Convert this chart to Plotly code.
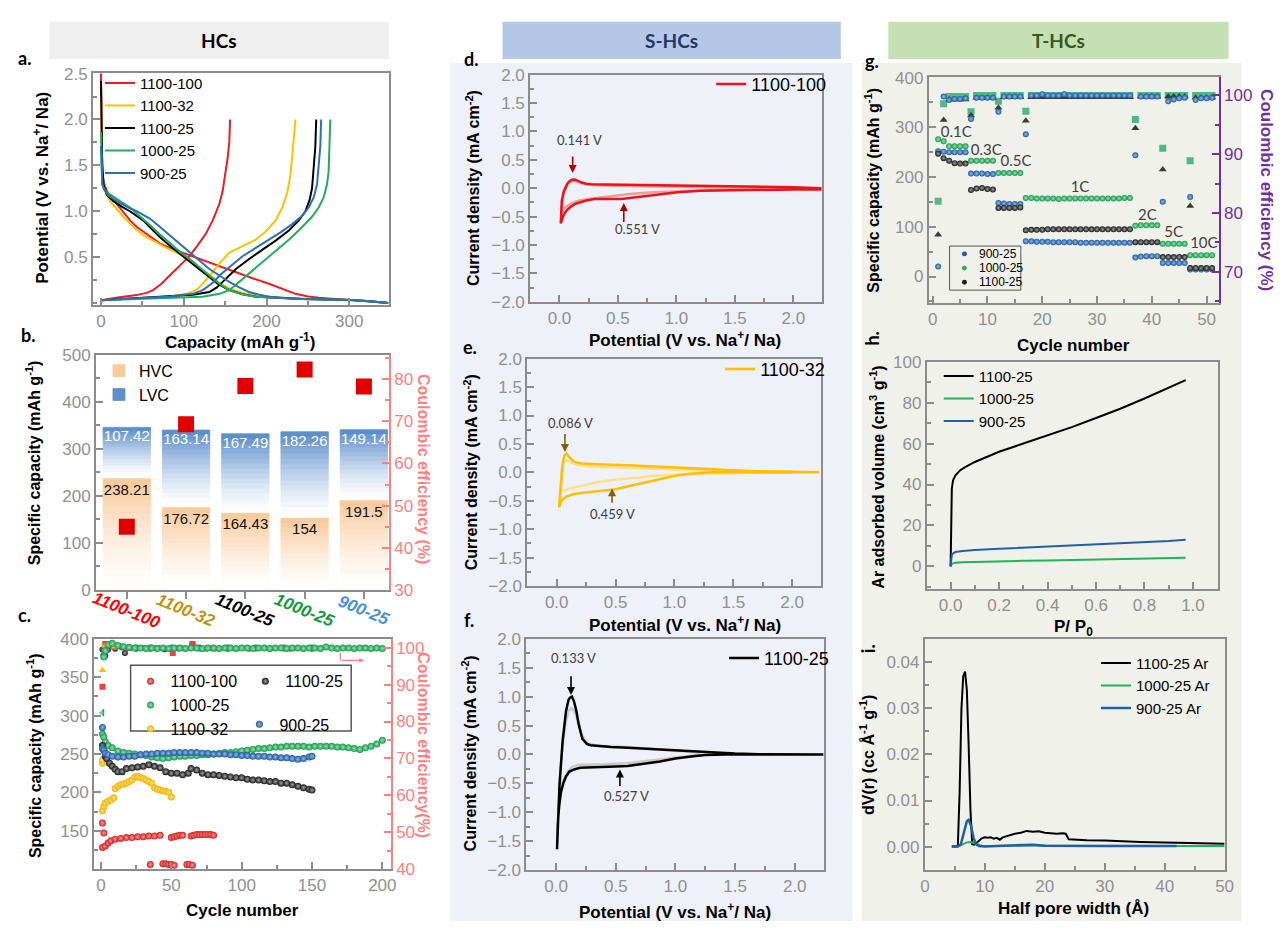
import plotly.graph_objects as go

W, H = 1287, 931
FONT = "Liberation Sans"
FONT2 = "Lato"
GRAY = "#8c8c8c"
CE_RED = "#ff8080"
PURPLE = "#7030a0"

# ---------------- panel a : charge / discharge profiles ----------------
a_names = ["1100-100", "1100-32", "1100-25", "1000-25", "900-25"]
a_colors = ["#ee1c25", "#ffc000", "#000000", "#1fae5b", "#2f6fb5"]
a_dis_x = [
    [0, 0.4, 1.2, 2.4, 4.5, 7.2, 12, 19, 27, 35, 43, 51, 61, 71, 83, 95, 109, 123, 143, 163, 183, 203, 220, 235, 250, 263, 283, 303, 325, 347],
    [0, 0.5, 1.5, 3.2, 6, 11, 19, 27, 39, 51, 63, 75, 91, 107, 119, 131, 143, 155, 171, 187, 215, 243, 273, 303, 325, 347],
    [0, 0.5, 1.5, 3.2, 7, 15, 25, 35, 43, 51, 61, 71, 85, 99, 113, 127, 141, 155, 171, 187, 215, 243, 273, 303, 325, 347],
    [0, 0.5, 1.6, 5, 11, 23, 35, 47, 59, 71, 83, 95, 107, 119, 131, 143, 155, 171, 187, 215, 243, 273, 303, 325, 347],
    [0, 0.5, 1.5, 3.2, 8, 19, 31, 43, 59, 71, 83, 95, 107, 119, 131, 143, 155, 167, 179, 191, 203, 223, 243, 273, 303, 325, 347],
]
a_dis_v = [
    [2.5, 2.07, 1.6, 1.36, 1.28, 1.22, 1.15, 1.08, 0.99, 0.9, 0.83, 0.78, 0.71, 0.65, 0.6, 0.56, 0.51, 0.47, 0.40, 0.33, 0.27, 0.21, 0.15, 0.10, 0.07, 0.056, 0.045, 0.033, 0.02, 0.0],
    [2.25, 1.9, 1.5, 1.29, 1.2, 1.11, 1.02, 0.94, 0.83, 0.74, 0.68, 0.62, 0.55, 0.48, 0.39, 0.30, 0.22, 0.16, 0.11, 0.086, 0.06, 0.05, 0.04, 0.033, 0.02, 0.0],
    [2.42, 1.9, 1.5, 1.29, 1.18, 1.11, 1.05, 1.0, 0.95, 0.9, 0.81, 0.72, 0.61, 0.51, 0.40, 0.30, 0.21, 0.14, 0.095, 0.068, 0.052, 0.044, 0.038, 0.033, 0.02, 0.0],
    [1.86, 1.5, 1.29, 1.22, 1.18, 1.11, 1.04, 0.95, 0.85, 0.75, 0.65, 0.56, 0.48, 0.39, 0.30, 0.21, 0.14, 0.095, 0.068, 0.052, 0.044, 0.038, 0.033, 0.02, 0.0],
    [1.71, 1.45, 1.3, 1.25, 1.18, 1.11, 1.05, 1.0, 0.92, 0.83, 0.74, 0.65, 0.55, 0.46, 0.37, 0.30, 0.23, 0.17, 0.12, 0.09, 0.068, 0.055, 0.044, 0.038, 0.033, 0.02, 0.0],
]
a_chg_x = [
    [0, 20, 43, 55, 63, 73, 83, 95, 107, 117, 127, 135, 143, 147, 151, 153, 155, 156],
    [0, 40, 83, 103, 115, 123, 131, 143, 155, 171, 187, 199, 211, 219, 225, 229, 231, 233, 235],
    [0, 40, 83, 111, 131, 140, 147, 155, 163, 179, 195, 211, 227, 239, 247, 252, 255, 257, 259, 260],
    [0, 60, 123, 143, 155, 163, 171, 183, 195, 211, 227, 241, 255, 263, 269, 273, 275, 276, 277],
    [0, 40, 83, 111, 123, 135, 147, 159, 171, 187, 203, 217, 231, 243, 251, 257, 261, 263, 265, 266],
]
a_chg_v = [
    [0.03, 0.06, 0.086, 0.11, 0.14, 0.21, 0.30, 0.40, 0.51, 0.63, 0.76, 0.90, 1.08, 1.22, 1.43, 1.58, 1.75, 2.0],
    [0.03, 0.05, 0.068, 0.1, 0.14, 0.21, 0.30, 0.43, 0.55, 0.62, 0.69, 0.78, 0.90, 1.04, 1.2, 1.4, 1.6, 1.8, 2.0],
    [0.03, 0.05, 0.07, 0.09, 0.12, 0.17, 0.23, 0.30, 0.37, 0.48, 0.58, 0.68, 0.79, 0.9, 1.0, 1.12, 1.25, 1.45, 1.71, 2.0],
    [0.03, 0.05, 0.068, 0.1, 0.14, 0.2, 0.26, 0.35, 0.44, 0.57, 0.69, 0.81, 0.94, 1.04, 1.15, 1.29, 1.43, 1.7, 2.0],
    [0.03, 0.05, 0.07, 0.1, 0.14, 0.22, 0.33, 0.42, 0.51, 0.6, 0.69, 0.77, 0.86, 0.95, 1.04, 1.15, 1.29, 1.5, 1.71, 2.0],
]

# ---------------- panel b : HVC / LVC bars + ICE ----------------
b_cats = ["1100-100", "1100-32", "1100-25", "1000-25", "900-25"]
b_cat_colors = ["#ff0000", "#c8900a", "#000000", "#119a3a", "#4a90d9"]
b_hvc = [238.21, 176.72, 164.43, 154, 191.5]
b_lvc = [107.42, 163.14, 167.49, 182.26, 149.14]
b_ice = [45.0, 69.3, 78.4, 82.3, 78.3]

# ---------------- panel c : cycling ----------------
c_red_cyc = [1, 2, 1, 3, 5, 7, 10, 14, 18, 22, 26, 30, 34, 38, 42, 50, 52, 54, 56, 58, 64, 66, 68, 70, 72, 74, 76, 78, 80]
c_red_cap = [160, 147, 128, 130, 134, 137, 139, 140, 141, 141, 142, 142, 143, 143, 144, 141, 142, 143, 144, 144, 143, 144, 145, 145, 145, 145, 145, 145, 144]
c_red_low_cyc = [35, 44, 46, 48, 50, 52, 61, 63, 65]
c_red_low_cap = [106, 107, 107, 106, 106, 105, 106, 106, 105]
c_yel_cyc = [1, 1, 1, 2, 3, 5, 7, 9, 10, 12, 14, 16, 18, 20, 22, 24, 26, 28, 30, 32, 34, 36, 38, 40, 42, 44, 46, 48, 50]
c_yel_cap = [238, 242, 176, 182, 186, 188, 190, 193, 205, 208, 210, 211, 212, 214, 216, 220, 221, 219, 218, 216, 214, 212, 206, 204, 203, 202, 201, 200, 194]
c_blk_cyc = [1, 2, 3, 4, 6, 8, 10, 12, 15, 18, 22, 26, 30, 34, 38, 42, 46, 50, 54, 58, 62, 64, 68, 72, 76, 80, 84, 88, 92, 96, 100, 104, 108, 112, 116, 120, 124, 128, 132, 136, 140, 144, 148, 150]
c_blk_cap = [261, 255, 247, 244, 238, 234, 230, 227, 227, 231, 232, 233, 234, 236, 234, 232, 227, 225, 225, 223, 225, 231, 229, 225, 223, 223, 222, 221, 220, 219, 219, 217, 216, 216, 215, 214, 214, 212, 212, 210, 208, 206, 204, 203]
c_blu_cyc = [1, 2, 3, 5, 8, 12, 16, 20, 24, 28, 32, 36, 40, 44, 48, 52, 56, 60, 64, 68, 72, 76, 80, 84, 88, 92, 96, 100, 104, 108, 112, 116, 120, 124, 128, 132, 136, 140, 144, 148, 150]
c_blu_cap = [257, 255, 251, 249, 247, 246, 246, 247, 247, 249, 250, 250, 251, 251, 251, 252, 252, 252, 252, 252, 251, 251, 250, 250, 250, 249, 249, 248, 248, 247, 247, 247, 246, 246, 245, 245, 244, 243, 244, 246, 247]
c_grn_cyc = [1, 2, 3, 5, 8, 12, 16, 20, 24, 28, 32, 36, 40, 44, 48, 52, 56, 60, 64, 68, 72, 76, 80, 84, 88, 92, 96, 100, 104, 108, 112, 116, 120, 124, 128, 132, 136, 140, 144, 148, 152, 156, 160, 164, 168, 172, 176, 180, 184, 188, 192, 196, 200]
c_grn_cap = [276, 272, 266, 261, 258, 254, 252, 251, 250, 249, 248, 246, 245, 244, 245, 246, 247, 247, 248, 248, 249, 249, 250, 251, 252, 252, 253, 254, 255, 256, 257, 257, 258, 259, 259, 260, 260, 260, 260, 259, 260, 260, 260, 260, 259, 259, 258, 257, 256, 258, 260, 263, 268]
c_grn_ce = [82.4, 97.5, 99.2, 100.8, 101.2, 100.6, 100.3, 100.1, 99.9, 99.9, 99.8, 99.9, 99.8, 99.9, 99.8, 99.9, 99.9, 99.8, 99.9, 99.9, 99.8, 99.9, 99.9, 99.8, 99.9, 99.9, 99.8, 99.9, 99.9, 99.8, 99.9, 99.9, 99.8, 99.9, 99.9, 99.8, 99.9, 99.9, 99.8, 99.9, 99.9, 99.8, 100.2, 99.9, 99.8, 99.9, 99.9, 99.8, 99.9, 99.9, 99.8, 99.9, 99.8]
c_blk_ce_cyc = [1, 3, 5, 10, 17, 25, 35, 45, 55, 65, 75, 90, 105, 120, 135, 150]
c_blk_ce = [99.5, 97.8, 99.5, 99.7, 98.6, 99.8, 99.8, 99.6, 99.8, 101.0, 99.8, 99.8, 99.8, 99.8, 99.8, 99.8]
c_blu_ce_cyc = [1, 2, 4, 8, 15, 25, 35, 50, 70, 90, 110, 130, 150]
c_blu_ce = [78.4, 97.9, 99.5, 100.5, 100.2, 99.9, 99.9, 99.9, 99.9, 99.9, 99.9, 99.9, 99.9]
c_red_ce_cyc = [1, 3, 6, 10, 20, 30, 40, 51, 56, 65, 70, 80]
c_red_ce = [89.4, 101.0, 100.6, 100.2, 99.9, 99.9, 99.9, 98.6, 99.9, 101.0, 99.9, 99.8]
c_yel_ce_cyc = [1, 3, 6, 10, 20, 30, 40, 50]
c_yel_ce = [93.9, 100.5, 100.8, 100.3, 99.9, 99.8, 99.8, 99.8]

# ---------------- panels d, e, f : CV ----------------
d_x = [0.011, 0.02, 0.035, 0.05, 0.07, 0.09, 0.11, 0.133, 0.16, 0.19, 0.23, 0.27, 0.4, 0.59, 0.8, 1.0, 1.15, 1.4, 1.72, 2.0, 2.23,
       2.23, 2.0, 1.7, 1.43, 1.2, 1.01, 0.85, 0.7, 0.6, 0.53, 0.45, 0.38, 0.3, 0.22, 0.16, 0.13, 0.1, 0.07, 0.05, 0.03, 0.011]
d_y = [-0.62, -0.22, -0.08, 0.01, 0.09, 0.13, 0.15, 0.155, 0.13, 0.1, 0.08, 0.07, 0.065, 0.06, 0.05, 0.045, 0.04, 0.03, 0.02, 0.02, 0.0,
       -0.02, -0.02, -0.025, -0.03, -0.045, -0.07, -0.11, -0.16, -0.18, -0.19, -0.19, -0.19, -0.19, -0.22, -0.26, -0.28, -0.32, -0.37, -0.42, -0.5, -0.62]
d_lx = [0.02, 0.025, 0.034, 0.05, 0.08, 0.11, 0.13, 0.16, 0.22, 0.35, 0.6, 0.9, 1.15, 1.5, 2.0,
        2.0, 1.5, 1.01, 0.8, 0.6, 0.47, 0.35, 0.25, 0.16, 0.1, 0.06, 0.034, 0.02]
d_ly = [-0.45, -0.25, -0.05, 0.03, 0.1, 0.125, 0.13, 0.11, 0.07, 0.05, 0.04, 0.03, 0.02, 0.01, 0.0,
        -0.01, -0.02, -0.05, -0.07, -0.1, -0.13, -0.16, -0.19, -0.22, -0.27, -0.32, -0.36, -0.45]
e_x = [0.02, 0.025, 0.034, 0.045, 0.055, 0.07, 0.085, 0.1, 0.13, 0.155, 0.21, 0.3, 0.45, 0.6, 0.8, 1.0, 1.17, 1.3, 1.45, 1.7, 2.0, 2.23,
       2.23, 2.0, 1.73, 1.5, 1.31, 1.15, 1.03, 0.9, 0.74, 0.6, 0.49, 0.4, 0.32, 0.22, 0.13, 0.08, 0.04, 0.02]
e_y = [-0.62, -0.45, -0.22, 0.05, 0.22, 0.31, 0.33, 0.28, 0.22, 0.18, 0.155, 0.145, 0.135, 0.126, 0.11, 0.095, 0.08, 0.06, 0.04, 0.02, 0.01, 0.0,
       0.0, 0.0, 0.0, 0.0, 0.0, -0.02, -0.05, -0.11, -0.19, -0.25, -0.3, -0.32, -0.33, -0.36, -0.39, -0.43, -0.5, -0.62]
e_lx = [0.04, 0.045, 0.056, 0.075, 0.1, 0.14, 0.18, 0.3, 0.6, 0.9, 1.17, 1.5, 2.0,
        2.0, 1.5, 1.1, 0.88, 0.7, 0.49, 0.35, 0.18, 0.1, 0.056, 0.04]
e_ly = [-0.33, -0.1, 0.18, 0.21, 0.2, 0.16, 0.13, 0.1, 0.08, 0.06, 0.04, 0.02, 0.01,
        -0.005, -0.01, -0.03, -0.05, -0.09, -0.13, -0.17, -0.25, -0.29, -0.33, -0.33]
f_x = [0.008, 0.014, 0.028, 0.055, 0.083, 0.105, 0.12, 0.133, 0.15, 0.17, 0.19, 0.22, 0.26, 0.29, 0.35, 0.46, 0.6, 0.87, 1.1, 1.29, 1.5, 1.7, 2.0, 2.24,
       2.24, 2.0, 1.7, 1.43, 1.25, 1.15, 1.0, 0.87, 0.75, 0.6, 0.5, 0.32, 0.2, 0.15, 0.11, 0.083, 0.06, 0.04, 0.025, 0.014, 0.008]
f_y = [-1.64, -1.22, -0.54, 0.24, 0.75, 0.95, 0.99, 1.0, 0.92, 0.75, 0.52, 0.27, 0.18, 0.16, 0.145, 0.13, 0.115, 0.084, 0.05, 0.03, 0.015, 0.006, 0.0, 0.0,
       0.0, 0.0, 0.0, 0.0, -0.01, -0.03, -0.07, -0.12, -0.16, -0.2, -0.21, -0.22, -0.23, -0.26, -0.3, -0.38, -0.5, -0.66, -0.9, -1.22, -1.64]
f_lx = [0.02, 0.03, 0.04, 0.06, 0.083, 0.105, 0.125, 0.145, 0.166, 0.19, 0.21, 0.26, 0.35, 0.6, 0.9, 1.2,
        1.2, 1.01, 0.8, 0.6, 0.4, 0.18, 0.13, 0.1, 0.06, 0.04, 0.02]
f_ly = [-1.0, -0.5, -0.15, 0.25, 0.58, 0.75, 0.8, 0.77, 0.69, 0.5, 0.35, 0.19, 0.15, 0.13, 0.08, 0.03,
        -0.005, -0.05, -0.1, -0.15, -0.17, -0.18, -0.22, -0.29, -0.45, -0.6, -1.0]

# ---------------- panel g : rate capability ----------------
g_cyc = list(range(1, 52))
g_cap_900 = [252, 251, 250, 250, 250, 250, 207, 207, 207, 206, 206, 148, 147, 146, 146, 146,
             71, 71, 70, 70, 70, 69, 69, 69, 69, 69, 68, 68, 68, 68, 68, 68, 68, 68, 68, 68,
             38, 40, 41, 41, 41, 27, 27, 27, 27, 27, 14, 14, 14, 14, 14]
g_cap_1000 = [276, 272, 262, 262, 262, 262, 233, 233, 233, 233, 233, 208, 208, 208, 208, 208,
              158, 158, 157, 157, 157, 157, 156, 157, 157, 157, 157, 157, 157, 157, 157, 157, 157, 157, 158, 158,
              102, 103, 103, 103, 103, 66, 66, 66, 66, 66, 43, 43, 43, 43, 43]
g_cap_1100 = [247, 238, 233, 228, 227, 227, 174, 177, 178, 176, 175, 138, 138, 138, 138, 139,
              93, 94, 94, 94, 95, 95, 95, 95, 95, 95, 95, 95, 95, 95, 95, 95, 95, 95, 95, 95,
              69, 69, 69, 69, 69, 39, 39, 39, 39, 39, 17, 17, 17, 17, 17]
g_ce_900 = [70.9, 99.8, 99.2, 99.4, 99.4, 99.5, 96.0, 99.6, 99.6, 99.6, 99.6, 97.2, 99.8, 99.8, 99.8, 99.8,
            93.4, 100, 100, 100.2, 100, 100, 100, 100.2, 100, 100, 100, 100, 100, 100, 100, 100, 100, 100, 100, 100,
            89.8, 99.8, 99.8, 99.8, 99.8, 81.9, 99.0, 99.3, 99.5, 99.6, 82.7, 99.2, 99.5, 99.5, 99.6]
g_ce_1000 = [82.0, 98.6, 99.8, 99.8, 99.8, 99.8, 97.2, 100, 100, 100, 100, 99.0, 100, 100, 100, 100,
             97.3, 100, 100, 100, 100, 100, 100, 100, 100, 100, 100, 100, 100, 100, 100, 100, 100, 100, 100, 100,
             95.9, 100, 100, 100, 100, 91.0, 100, 100, 100, 100, 88.9, 100, 100, 100, 100]
g_ce_1100 = [76.3, 95.8, 99.3, 99.3, 99.3, 99.3, 96.6, 99.6, 99.6, 99.6, 99.6, 97.9, 99.7, 99.7, 99.7, 99.7,
             95.7, 99.7, 99.7, 99.7, 99.7, 99.7, 99.7, 99.7, 99.7, 99.7, 99.7, 99.7, 99.7, 99.7, 99.7, 99.7, 99.7, 99.7, 99.7, 99.7,
             94.4, 99.8, 99.8, 99.8, 99.8, 87.4, 99.8, 99.8, 99.8, 99.8, 81.2, 99.6, 99.6, 99.6, 99.6]
g_rates = ["0.1C", "0.3C", "0.5C", "1C", "2C", "5C", "10C"]
g_rate_x = [4.3, 9.8, 15.2, 26.9, 39.2, 44.0, 49.5]
g_rate_y = [289, 252, 230, 177, 122, 87, 65]
g_leg_names = ["900-25", "1000-25", "1100-25"]
g_leg_colors = ["#1f5aa0", "#22b05a", "#1a1a1a"]

# ---------------- panel h : Ar isotherms ----------------
h_1100_p = [0.0, 0.001, 0.002, 0.003, 0.005, 0.01, 0.02, 0.04, 0.06, 0.1, 0.15, 0.2, 0.3, 0.4, 0.5, 0.6, 0.7, 0.8, 0.9, 0.97]
h_1100_v = [0, 8, 20, 30, 38, 42, 44.5, 47, 48.5, 51, 53.5, 56, 60, 64, 68, 72.5, 77, 82, 87.5, 91]
h_low_p = [0, 0.002, 0.005, 0.01, 0.02, 0.05, 0.1, 0.2, 0.3, 0.4, 0.5, 0.6, 0.7, 0.8, 0.9, 0.97]
h_900_v = [0, 4, 5.5, 6.3, 7, 7.5, 8, 8.6, 9.1, 9.6, 10.1, 10.7, 11.2, 11.8, 12.4, 13]
h_1000_v = [0, 0.8, 1.2, 1.5, 1.8, 2.0, 2.2, 2.5, 2.7, 2.9, 3.1, 3.3, 3.5, 3.7, 4.0, 4.2]

# ---------------- panel i : pore size distribution ----------------
i_1100_w = [4.5, 5.0, 5.5, 5.8, 6.1, 6.4, 6.7, 7.0, 7.3, 7.6, 7.9, 8.2, 8.6, 9.0, 9.5, 10, 10.5, 11, 11.5, 12, 12.5, 13, 14, 15, 16, 17, 18, 19, 20, 21, 22, 23, 23.5, 24, 25, 27, 30, 33, 36, 40, 43, 46, 50]
i_1100_d = [0, 0, 0.0002, 0.012, 0.03, 0.037, 0.038, 0.034, 0.022, 0.008, 0.0005, 0.0004, 0.0008, 0.0012, 0.0018, 0.0020, 0.0019, 0.0020, 0.0017, 0.0019, 0.0015, 0.0020, 0.0024, 0.0028, 0.0030, 0.0034, 0.0032, 0.0033, 0.0030, 0.0029, 0.0028, 0.0029, 0.0028, 0.0016, 0.0015, 0.0014, 0.0013, 0.0011, 0.0010, 0.0009, 0.0008, 0.0007, 0.0006]
i_900_w = [4.5, 5.5, 6.0, 6.5, 7.0, 7.3, 7.7, 8.1, 8.5, 9.0, 10, 12, 14, 16, 17, 18, 20, 25, 30, 35, 42]
i_900_d = [0, 0, 0.0005, 0.003, 0.0055, 0.0058, 0.0045, 0.002, 0.0005, 0.0001, 0, 0.0001, 0.0002, 0.0004, 0.0005, 0.0004, 0.0002, 0.0001, 0.0001, 0.0001, 0.0001]
i_1000_w = [4.5, 5.5, 6.5, 7.0, 7.5, 8.0, 8.5, 9.5, 12, 15, 17, 20, 30, 40, 50]
i_1000_d = [0, 0, 0.0006, 0.0009, 0.001, 0.0009, 0.0006, 0.0002, 0.0001, 0.0002, 0.0003, 0.0002, 0.0001, 0.0001, 0.0001]


# ====================================================================
def fx(x):
    return x / W


def fy(y):
    return 1 - y / H


def dom(x0, x1, y0, y1):
    return [x0 / W, x1 / W], [1 - y1 / H, 1 - y0 / H]


TICKSIZE = 17


def axis(domain, rng, anchor, dtick=None, mdtick=None, tickvals=None, fmt=None,
         ticks="inside", color=GRAY, tcolor="#909090", mirror=True, **kw):
    d = dict(domain=domain, range=rng, anchor=anchor, showline=True, linecolor=color, linewidth=2,
             mirror=mirror, ticks=ticks, ticklen=7, tickwidth=1.5, tickcolor=color,
             showgrid=False, zeroline=False,
             tickfont=dict(family=FONT, size=TICKSIZE, color=tcolor))
    if dtick is not None:
        d.update(tick0=0, dtick=dtick)
    if tickvals is not None:
        d.update(tickmode="array", tickvals=tickvals)
    if mdtick:
        d["minor"] = dict(ticks=ticks, ticklen=4, tickcolor=color, dtick=mdtick, tick0=0, showgrid=False)
    if fmt:
        d["tickformat"] = fmt
    d.update(kw)
    return d


fig = go.Figure()


def add(tr):
    fig.add_trace(tr)


# ---- a ----
for k in range(5):
    add(go.Scatter(x=a_dis_x[k], y=a_dis_v[k], mode="lines", line=dict(color=a_colors[k], width=2),
                   name=a_names[k], legendgroup=a_names[k], legend="legend", xaxis="x", yaxis="y"))
    add(go.Scatter(x=a_chg_x[k], y=a_chg_v[k], mode="lines", line=dict(color=a_colors[k], width=2),
                   name=a_names[k], legendgroup=a_names[k], showlegend=False, xaxis="x", yaxis="y"))


# ---- b : gradient bars as stacked slices ----
def mix(c0, c1, t):
    return "rgb(%d,%d,%d)" % tuple(round(c0[i] + (c1[i] - c0[i]) * t) for i in range(3))


NS = 16
WHITE = (255, 255, 255)
ORANGE = (249, 200, 152)
BLUE = (86, 138, 202)
bx = list(range(len(b_cats)))
for k in range(NS):
    t = ((k + 0.5) / NS) ** 1.4
    col = mix(WHITE, ORANGE, t)
    add(go.Bar(x=bx, y=[v / NS for v in b_hvc], base=[v * k / NS for v in b_hvc], width=0.8,
               marker=dict(color=col, line=dict(width=0.8, color=col)), name="HVC", textposition="none",
               showlegend=(k == NS - 1), legend="legend2", xaxis="x2", yaxis="y2"))
for k in range(NS):
    t = ((k + 0.5) / NS) ** 1.4
    col = mix(WHITE, BLUE, t)
    add(go.Bar(x=bx, y=[v / NS for v in b_lvc], base=[h + v * k / NS for h, v in zip(b_hvc, b_lvc)], width=0.8,
               marker=dict(color=col, line=dict(width=0.8, color=col)), name="LVC", textposition="none",
               showlegend=(k == NS - 1), legend="legend2", xaxis="x2", yaxis="y2"))
add(go.Scatter(x=bx, y=[h - 28 for h in b_hvc], mode="text", text=["%g" % v for v in b_hvc],
               textfont=dict(family=FONT, size=15, color="#111111"), showlegend=False, xaxis="x2", yaxis="y2"))
add(go.Scatter(x=bx, y=[h + l - 22 for h, l in zip(b_hvc, b_lvc)], mode="text", text=["%g" % v for v in b_lvc],
               textfont=dict(family=FONT, size=15, color="white"), showlegend=False, xaxis="x2", yaxis="y2"))
add(go.Scatter(x=bx, y=b_ice, mode="markers", marker=dict(symbol="square", size=16, color="#e00000"),
               showlegend=False, xaxis="x2", yaxis="y10"))

# ---- c ----
SPH = {
    "red": ("#d42020", "#ff9a9a"),
    "blk": ("#1a1a1a", "#a0a0a0"),
    "grn": ("#169a4a", "#94e4b4"),
    "yel": ("#f2b200", "#ffe98a"),
    "blu": ("#1f5aa0", "#8fbbe8"),
}


def sph(key, size=7, symbol="circle"):
    edge, centre = SPH[key]
    return dict(size=size, color=edge, symbol=symbol, gradient=dict(type="radial", color=centre), line=dict(width=0))


# CE (right axis)
add(go.Scatter(x=c_blk_ce_cyc, y=c_blk_ce, mode="markers", marker=sph("blk", 6), showlegend=False, xaxis="x3", yaxis="y11"))
add(go.Scatter(x=c_blu_ce_cyc, y=c_blu_ce, mode="markers", marker=sph("blu", 7), showlegend=False, xaxis="x3", yaxis="y11"))
add(go.Scatter(x=c_red_ce_cyc, y=c_red_ce, mode="markers", marker=dict(symbol="square", size=6, color="#f04040"),
               showlegend=False, xaxis="x3", yaxis="y11"))
add(go.Scatter(x=c_yel_ce_cyc, y=c_yel_ce, mode="markers", marker=dict(symbol="triangle-up", size=7, color="#ffc000"),
               showlegend=False, xaxis="x3", yaxis="y11"))
grn_sym = ["triangle-left"] + ["circle"] * (len(c_grn_ce) - 1)
add(go.Scatter(x=c_grn_cyc, y=c_grn_ce, mode="markers", marker=sph("grn", 7, grn_sym),
               showlegend=False, xaxis="x3", yaxis="y11"))
# capacity (left axis)
add(go.Scatter(x=c_red_cyc, y=c_red_cap, mode="markers", marker=sph("red"), name="1100-100", legend="legend3",
               xaxis="x3", yaxis="y3"))
add(go.Scatter(x=c_red_low_cyc, y=c_red_low_cap, mode="markers", marker=sph("red"), showlegend=False,
               xaxis="x3", yaxis="y3"))
add(go.Scatter(x=c_grn_cyc, y=c_grn_cap, mode="markers", marker=sph("grn"), name="1000-25", legend="legend3",
               xaxis="x3", yaxis="y3"))
add(go.Scatter(x=c_yel_cyc, y=c_yel_cap, mode="markers", marker=sph("yel"), name="1100-32", legend="legend3",
               xaxis="x3", yaxis="y3"))
add(go.Scatter(x=c_blk_cyc, y=c_blk_cap, mode="markers", marker=sph("blk"), name="1100-25", legend="legend4",
               xaxis="x3", yaxis="y3"))
add(go.Scatter(x=c_blu_cyc, y=c_blu_cap, mode="markers", marker=sph("blu"), name="900-25", legend="legend11",
               xaxis="x3", yaxis="y3"))

# ---- d, e, f ----
add(go.Scatter(x=d_lx, y=d_ly, mode="lines", line=dict(color="#f49a9a", width=2.5), showlegend=False, xaxis="x4", yaxis="y4"))
add(go.Scatter(x=d_x, y=d_y, mode="lines", line=dict(color="#e8141c", width=2.5), name="1100-100", legend="legend5",
               xaxis="x4", yaxis="y4"))
add(go.Scatter(x=e_lx, y=e_ly, mode="lines", line=dict(color="#ffe08a", width=2.5), showlegend=False, xaxis="x5", yaxis="y5"))
add(go.Scatter(x=e_x, y=e_y, mode="lines", line=dict(color="#ffbf00", width=2.5), name="1100-32", legend="legend6",
               xaxis="x5", yaxis="y5"))
add(go.Scatter(x=f_lx, y=f_ly, mode="lines", line=dict(color="#c8c8c8", width=2.5), showlegend=False, xaxis="x6", yaxis="y6"))
add(go.Scatter(x=f_x, y=f_y, mode="lines", line=dict(color="#000000", width=2.5), name="1100-25", legend="legend7",
               xaxis="x6", yaxis="y6"))

# ---- g ----
add(go.Scatter(x=g_cyc, y=g_ce_1000, mode="markers", marker=dict(symbol="square", size=7, color="#4fb985"),
               showlegend=False, xaxis="x7", yaxis="y12"))
add(go.Scatter(x=g_cyc, y=g_ce_1100, mode="markers", marker=dict(symbol="triangle-up", size=7, color="#3a3a3a"),
               showlegend=False, xaxis="x7", yaxis="y12"))
add(go.Scatter(x=g_cyc, y=g_ce_900, mode="markers", marker=sph("blu", 6), showlegend=False, xaxis="x7", yaxis="y12"))
add(go.Scatter(x=g_cyc, y=g_cap_900, mode="markers", marker=sph("blu", 6), name="900-25", showlegend=False,
               xaxis="x7", yaxis="y7"))
add(go.Scatter(x=g_cyc, y=g_cap_1000, mode="markers", marker=sph("grn", 6), name="1000-25", showlegend=False,
               xaxis="x7", yaxis="y7"))
add(go.Scatter(x=g_cyc, y=g_cap_1100, mode="markers", marker=sph("blk", 6), name="1100-25", showlegend=False,
               xaxis="x7", yaxis="y7"))
add(go.Scatter(x=g_rate_x, y=g_rate_y, mode="text", text=g_rates, textfont=dict(family=FONT2, size=15, color="#404040"),
               showlegend=False, xaxis="x7", yaxis="y7"))

# ---- h ----
add(go.Scatter(x=h_1100_p, y=h_1100_v, mode="lines", line=dict(color="#000000", width=2), name="1100-25",
               legend="legend9", xaxis="x8", yaxis="y8"))
add(go.Scatter(x=h_low_p, y=h_1000_v, mode="lines", line=dict(color="#1fb45a", width=2), name="1000-25",
               legend="legend9", xaxis="x8", yaxis="y8"))
add(go.Scatter(x=h_low_p, y=h_900_v, mode="lines", line=dict(color="#1f5fa8", width=2), name="900-25",
               legend="legend9", xaxis="x8", yaxis="y8"))

# ---- i ----
add(go.Scatter(x=i_1100_w, y=i_1100_d, mode="lines", line=dict(color="#000000", width=2), name="1100-25 Ar",
               legend="legend10", xaxis="x9", yaxis="y9"))
add(go.Scatter(x=i_1000_w, y=i_1000_d, mode="lines", line=dict(color="#1fb45a", width=2), name="1000-25 Ar",
               legend="legend10", xaxis="x9", yaxis="y9"))
add(go.Scatter(x=i_900_w, y=i_900_d, mode="lines", line=dict(color="#1f5fa8", width=2.5), name="900-25 Ar",
               legend="legend10", xaxis="x9", yaxis="y9"))

# ====================================================================
lay = dict(width=W, height=H, autosize=False, margin=dict(l=0, r=0, t=0, b=0),
           paper_bgcolor="white", plot_bgcolor="rgba(0,0,0,0)", barmode="overlay",
           font=dict(family=FONT, size=14, color="black"))

xd, yd = dom(89, 388, 65, 302)
lay["xaxis"] = axis(xd, [-9.6, 347.7], "y", dtick=100, mdtick=50)
lay["yaxis"] = axis(yd, [-0.02, 2.51], "x", tickvals=[0.5, 1.0, 1.5, 2.0, 2.5], mdtick=0.25, fmt=".1f")

xd, yd = dom(92, 388, 353, 593)
lay["xaxis2"] = axis(xd, [-0.52, 4.42], "y2", tickvals=bx, showticklabels=False, ticks="outside")
lay["yaxis2"] = axis(yd, [0, 500], "x2", dtick=100, mdtick=50, mirror=False)
lay["yaxis10"] = axis(yd, [30, 85.8], "x2", tickvals=[30, 40, 50, 60, 70, 80], mdtick=5, color=CE_RED, tcolor=CE_RED,
                      overlaying="y2", side="right", mirror=False)

xd, yd = dom(90, 390, 643, 878)
lay["xaxis3"] = axis(xd, [-5, 206], "y3", dtick=50, mdtick=25)
lay["yaxis3"] = axis(yd, [100, 400], "x3", tickvals=[150, 200, 250, 300, 350, 400], mdtick=25, mirror=False)
lay["yaxis11"] = axis(yd, [40, 102.4], "x3", tickvals=[40, 50, 60, 70, 80, 90, 100], mdtick=5, color=CE_RED,
                      tcolor=CE_RED, overlaying="y3", side="right", mirror=False)

for n, (x0, x1, y0, y1) in zip([4, 5, 6], [(531, 826, 67, 299), (528, 825, 357, 589), (527, 828, 643, 879)]):
    xd, yd = dom(x0, x1, y0, y1)
    lay["xaxis%d" % n] = axis(xd, [-0.25, 2.245], "y%d" % n, dtick=0.5, mdtick=0.25, fmt=".1f")
    lay["yaxis%d" % n] = axis(yd, [-2.0, 2.0], "x%d" % n, dtick=0.5, mdtick=0.25, fmt=".1f")

xd, yd = dom(934, 1227, 69, 300)
lay["xaxis7"] = axis(xd, [-0.7, 52.2], "y7", dtick=10, mdtick=5)
lay["yaxis7"] = axis(yd, [-53, 402], "x7", tickvals=[0, 100, 200, 300, 400], mdtick=50, mirror=False)
lay["yaxis12"] = axis(yd, [64.7, 103.2], "x7", tickvals=[70, 80, 90, 100], mdtick=5, color=PURPLE, tcolor=PURPLE,
                      overlaying="y7", side="right", mirror=False)

xd, yd = dom(932, 1226, 360, 592)
lay["xaxis8"] = axis(xd, [-0.098, 1.102], "y8", dtick=0.2, mdtick=0.1, fmt=".1f")
lay["yaxis8"] = axis(yd, [-11, 100], "x8", dtick=20, mdtick=10)

xd, yd = dom(930, 1233, 643, 879)
lay["xaxis9"] = axis(xd, [0, 50], "y9", dtick=10, mdtick=5)
lay["yaxis9"] = axis(yd, [-0.0051, 0.0451], "x9", tickvals=[0, 0.01, 0.02, 0.03, 0.04], mdtick=0.005, fmt=".2f")


def leg(x, y, size, **kw):
    d = dict(x=fx(x), y=fy(y), xanchor="left", yanchor="top", bgcolor="rgba(0,0,0,0)",
             font=dict(family=FONT, size=size, color="black"), tracegroupgap=0, itemwidth=30)
    d.update(kw)
    return d


lay["legend"] = leg(96, 59, 15)
lay["legend2"] = leg(95, 352, 16)
lay["legend3"] = leg(127, 669, 16)
lay["legend4"] = leg(243, 669, 16)
lay["legend11"] = leg(237, 713, 16)
lay["legend5"] = leg(714, 58, 18)
lay["legend6"] = leg(723, 349, 18)
lay["legend7"] = leg(727, 644, 18)
lay["legend9"] = leg(944, 358, 15)
lay["legend10"] = leg(1103, 651, 15)

shapes = []


def rect(x0, y0, x1, y1, fill, layer="below", line=None):
    s = dict(type="rect", xref="paper", yref="paper", x0=fx(x0), x1=fx(x1), y0=fy(y1), y1=fy(y0),
             fillcolor=fill, layer=layer, line=dict(width=0) if line is None else line)
    shapes.append(s)


rect(450, 55, 857, 931, "#eef1f8")
rect(866, 55, 1250, 931, "#f0f1ea")
rect(45, 13, 388, 51, "#efefef")
rect(503, 13, 845, 51, "#b4c7e7")
rect(893, 13, 1237, 51, "#c5e0b4")
rect(127, 670, 350, 737, "rgba(0,0,0,0)", layer="above", line=dict(color="#555555", width=1.5))
rect(955, 242, 1027, 287, "#f0f1ea", layer="above", line=dict(color="#555555", width=1))
shapes.append(dict(type="line", xref="paper", yref="paper", x0=fx(339), x1=fx(339), y0=fy(657), y1=fy(665),
                   line=dict(color=CE_RED, width=1.2)))

ann = []


def text(x, y, s, size=17, color="black", angle=0, bold=True, family=FONT, **kw):
    d = dict(x=fx(x), y=fy(y), xref="paper", yref="paper", text=s, showarrow=False, textangle=angle,
             font=dict(family=family, size=size, color=color, weight="bold" if bold else "normal"),
             xanchor="center", yanchor="middle")
    d.update(kw)
    ann.append(d)


# custom compact legend for panel g
for j, (nm, col) in enumerate(zip(g_leg_names, g_leg_colors)):
    yy = 250 + j * 14.5
    shapes.append(dict(type="circle", xref="paper", yref="paper", x0=fx(967.5), x1=fx(972.5),
                       y0=fy(yy + 2.5), y1=fy(yy - 2.5), fillcolor=col, line=dict(width=0), layer="above"))
    text(983, yy, nm, size=12, bold=False, xanchor="left")
lay["shapes"] = shapes

# headers
text(216, 32, "HCs", size=19, family=FONT2)
text(674, 32, "S-HCs", size=19, color="#1f3864", family=FONT2)
text(1065, 32, "T-HCs", size=19, color="#385723", family=FONT2)
# panel letters
for s, x, y in [("a.", 20, 50), ("b.", 24, 333), ("c.", 20, 619), ("d.", 472, 51), ("e.", 470, 345),
                ("f.", 469, 624), ("g.", 877, 53)]:
    text(x, y, s, size=18, family=FONT2)
text(877, 336, "h.", size=18, family=FONT2, angle=-90)
text(872, 653, "i.", size=18, family=FONT2, angle=-90)

# axis titles
text(37, 183, "Potential (V vs. Na<sup>+</sup>/ Na)", angle=-90)
text(238, 339, "Capacity (mAh g<sup>-1</sup>)")
text(28, 463, "Specific capacity (mAh g<sup>-1</sup>)", size=16, angle=-90)
text(423, 470, "Coulombic efficiency (%)", size=16, angle=90, color=CE_RED)
text(30, 762, "Specific capacity (mAh g<sup>-1</sup>)", size=16, angle=-90)
text(423, 752, "Coulombic efficiency(%)", size=16, angle=90, color=CE_RED)
text(240, 920, "Cycle number")
text(473, 183, "Current density (mA cm<sup>-2</sup>)", size=16, angle=-90)
text(687, 337, "Potential (V vs. Na<sup>+</sup>/ Na)")
text(471, 473, "Current density (mA cm<sup>-2</sup>)", size=16, angle=-90)
text(687, 628, "Potential (V vs. Na<sup>+</sup>/ Na)")
text(470, 760, "Current density (mA cm<sup>-2</sup>)", size=16, angle=-90)
text(677, 921, "Potential (V vs. Na<sup>+</sup>/ Na)")
text(877, 185, "Specific capacity (mAh g<sup>-1</sup>)", size=16, angle=-90)
text(1276, 185, "Coulombic efficiency (%)", size=17, angle=90, color=PURPLE)
text(1080, 343, "Cycle number")
text(882, 478, "Ar adsorbed volume (cm<sup>3</sup> g<sup>-1</sup>)", size=16, angle=-90)
text(1080, 632, "P/ P<sub>0</sub>")
text(872, 762, "dV(r) (cc Å<sup>-1</sup> g<sup>-1</sup>)", size=16, angle=-90)
text(1080, 918, "Half pore width (Å)")

# b category labels
for i, (c, col) in enumerate(zip(b_cats, b_cat_colors)):
    ann.append(dict(x=i, y=fy(614), xref="x2", yref="paper", text="<i>%s</i>" % c, showarrow=False, textangle=22,
                    font=dict(family=FONT, size=17, color=col, weight="bold"), xanchor="center", yanchor="middle"))

# c small arrow toward right axis
ann.append(dict(x=fx(363), y=fy(665), ax=-24, ay=0, xref="paper", yref="paper", axref="pixel",
                ayref="pixel", text="", showarrow=True, arrowhead=2, arrowsize=0.8, arrowwidth=1.2, arrowcolor=CE_RED))

# CV peak arrows
cv_marks = [
    ("x4", "y4", "#b00000", 0.113, 0.586, 0.27, "0.141 V", 0.175, 0.85),
    ("x4", "y4", "#b00000", 0.55, -0.62, -0.26, "0.551 V", 0.665, -0.72),
    ("x5", "y5", "#7f6000", 0.07, 0.70, 0.36, "0.086 V", 0.12, 0.87),
    ("x5", "y5", "#7f6000", 0.47, -0.56, -0.28, "0.459 V", 0.47, -0.74),
    ("x6", "y6", "#000000", 0.125, 1.38, 1.03, "0.133 V", 0.15, 1.67),
    ("x6", "y6", "#000000", 0.535, -0.57, -0.26, "0.527 V", 0.587, -0.71),
]
for xa, ya, col, x, y0, y1, s, tx, ty in cv_marks:
    ann.append(dict(x=x, y=y1, ax=x, ay=y0, xref=xa, yref=ya, axref=xa, ayref=ya, text="", showarrow=True,
                    arrowhead=2, arrowsize=1, arrowwidth=1.6, arrowcolor=col))
    ann.append(dict(x=tx, y=ty, xref=xa, yref=ya, text=s, showarrow=False,
                    font=dict(family=FONT2, size=13, color="#404040")))

lay["annotations"] = ann
fig.update_layout(**lay)
fig.write_html("out.html")
